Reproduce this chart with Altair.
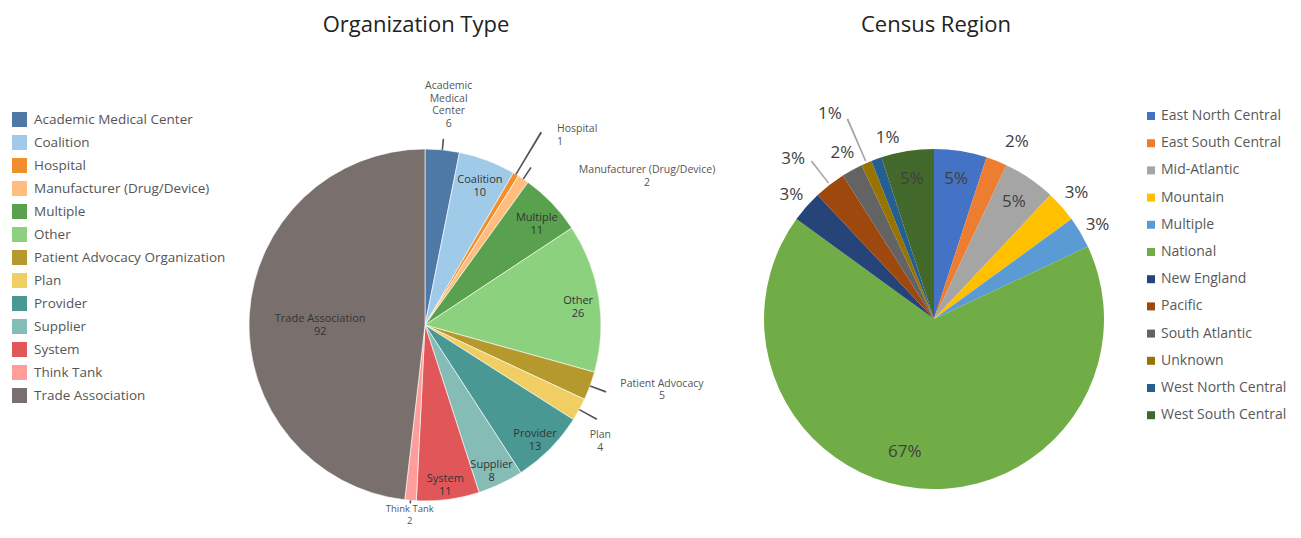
import math
import altair as alt
import pandas as pd

# ---------------- data ----------------
org_types = [
    "Academic Medical Center", "Coalition", "Hospital", "Manufacturer (Drug/Device)",
    "Multiple", "Other", "Patient Advocacy Organization", "Plan", "Provider",
    "Supplier", "System", "Think Tank", "Trade Association",
]
org_counts = [6, 10, 1, 2, 11, 26, 5, 4, 13, 8, 11, 2, 92]
org_labels = [
    "Academic\nMedical\nCenter", "Coalition", "Hospital", "Manufacturer (Drug/Device)",
    "Multiple", "Other", "Patient Advocacy", "Plan", "Provider",
    "Supplier", "System", "Think Tank", "Trade Association",
]
org_colors = [
    "#4e79a7", "#a0cbe8", "#f28e2b", "#ffbe7d", "#59a14f", "#8cd17d", "#b6992d",
    "#f1ce63", "#499894", "#86bcb6", "#e15759", "#ff9d9a", "#79706e",
]

regions = [
    "East North Central", "East South Central", "Mid-Atlantic", "Mountain", "Multiple",
    "National", "New England", "Pacific", "South  Atlantic", "Unknown",
    "West North Central", "West South Central",
]
region_pct = [5, 2, 5, 3, 3, 67, 3, 3, 2, 1, 1, 5]
region_colors = [
    "#4472c4", "#ed7d31", "#a5a5a5", "#ffc000", "#5b9bd5", "#70ad47",
    "#264478", "#9e480e", "#636363", "#997300", "#255e91", "#43682b",
]

titles = ["Organization Type", "Census Region"]

org_df = pd.DataFrame({"cat": org_types, "value": org_counts, "label": org_labels,
                       "order": list(range(len(org_types)))})
reg_df = pd.DataFrame({"cat": regions, "value": region_pct,
                       "order": list(range(len(regions)))})

# ---------------- layout ----------------
LX, LY, LR = 417, 317, 176   # left pie centre / radius (plot coords)
RX, RY, RR = 926, 311, 170   # right pie centre / radius
FONT = "Open Sans"
THETA = alt.Scale(domain=[0, 1], range=[0, 2 * math.pi])


def polar(df):
    return (
        alt.Chart(df)
        .transform_window(cum="sum(value)", sort=[alt.SortField("order")], frame=[None, 0])
        .transform_joinaggregate(total="sum(value)")
        .transform_calculate(
            start="(datum.cum - datum.value) / datum.total",
            end="datum.cum / datum.total",
            mid="(datum.cum - datum.value / 2) / datum.total",
            lo="(datum.cum - datum.value / 2) / datum.total - 0.0007",
            hi="(datum.cum - datum.value / 2) / datum.total + 0.0007",
        )
    )


def pie(df, cx, cy, r, domain, colors, legend, stroke_w):
    return polar(df).mark_arc(outerRadius=r, stroke="white", strokeWidth=stroke_w).encode(
        theta=alt.Theta("start:Q", scale=THETA, stack=False),
        theta2="end:Q",
        color=alt.Color("cat:N", scale=alt.Scale(domain=domain, range=colors), legend=legend),
        x=alt.value(cx), y=alt.value(cy),
    )


def labels(df, cx, cy, expr, txt, radius, size, color, align="center", dx=0, dy=0, lh=None):
    extra = {"lineHeight": lh} if lh else {}
    return (
        polar(df)
        .transform_filter(expr)
        .transform_calculate(txt=txt)
        .mark_text(align=align, baseline="middle", dx=dx, dy=dy, lineBreak="\n",
                   font=FONT, fontSize=size, color=color, **extra)
        .encode(
            theta=alt.Theta("mid:Q", scale=THETA, stack=False),
            radius=alt.value(radius),
            text="txt:N",
            x=alt.value(cx), y=alt.value(cy),
        )
    )


def leader(df, cx, cy, expr, r1, r2, color):
    return (
        polar(df)
        .transform_filter(expr)
        .mark_arc(innerRadius=r1, outerRadius=r2, color=color)
        .encode(
            theta=alt.Theta("lo:Q", scale=THETA, stack=False),
            theta2="hi:Q",
            x=alt.value(cx), y=alt.value(cy),
        )
    )


ORG_TXT = "datum.label + '\\n' + datum.value"
REG_TXT = "datum.value + '%'"

left_legend = alt.Legend(
    orient="none", legendX=4, legendY=104, title=None, symbolType="square",
    symbolSize=225, symbolStrokeWidth=0, symbolOpacity=1, labelFont=FONT,
    labelFontSize=13.5, labelColor="#555555", rowPadding=8, labelOffset=7, padding=0,
    labelLimit=400,
)
right_legend = alt.Legend(
    orient="none", legendX=1136, legendY=101, title=None, symbolType="square",
    symbolSize=64, symbolStrokeWidth=0, symbolOpacity=1, labelFont=FONT,
    labelFontSize=14, labelColor="#595959", rowPadding=13.2, labelOffset=3, padding=0,
    labelLimit=400,
)

layers = [
    pie(org_df, LX, LY, LR, org_types, org_colors, left_legend, 0.6),
    pie(reg_df, RX, RY, RR, regions, region_colors, right_legend, 0),
]

# left pie: inside labels
layers.append(labels(org_df, LX, LY, "datum.value >= 8 && datum.value < 50", ORG_TXT, 155, 11, "#333333"))
layers.append(labels(org_df, LX, LY, "datum.value >= 50", ORG_TXT, 105, 11, "#333333"))

# left pie: outside labels  (category, radius, align, dx, dy, line r1, line r2, line height, size)
ORG_OUT = [
    ("Academic Medical Center", 240, "center", 0, 0, LR, 187, None, 10.5),
    ("Hospital", 240, "left", 8, 10, LR, 225, None, 10.5),
    ("Manufacturer (Drug/Device)", 190, "center", 116, 3, LR, 190, None, 10.5),
    ("Patient Advocacy Organization", 195, "center", 54, -9, LR, 193, None, 10.5),
    ("Plan", 200, "center", 0, 14, LR, 196, None, 10.5),
    ("Think Tank", 185, "center", 0, 0, LR, 179, 12, 9.5),
]
for cat, rad, al, dx, dy, r1, r2, lh, fs in ORG_OUT:
    expr = f"datum.cat == '{cat}'"
    layers.append(labels(org_df, LX, LY, expr, ORG_TXT, rad, fs, "#555555", al, dx, dy, lh))
    layers.append(leader(org_df, LX, LY, expr, r1, r2, "#555555"))

# right pie: inside labels
layers.append(labels(reg_df, RX, RY, "datum.value >= 5 && datum.value < 50", REG_TXT, 142, 17, "#404040"))
layers.append(labels(reg_df, RX, RY, "datum.value >= 50", REG_TXT, 140, 17, "#404040", "center", -16, -6))

# right pie: outside labels
REG_OUT = [
    ("East South Central", 190, 13, 0, None),
    ("Mountain", 190, 0, 0, None),
    ("Multiple", 190, 0, 3, None),
    ("New England", 190, 0, 2, None),
    ("Pacific", 212, -11, 8, 200),
    ("South  Atlantic", 190, 0, 0, None),
    ("Unknown", 232, -12, 8, 218),
    ("West North Central", 190, 18, -2, None),
]
for cat, rad, dx, dy, line_end in REG_OUT:
    expr = f"datum.cat == '{cat}'"
    layers.append(labels(reg_df, RX, RY, expr, REG_TXT, rad, 17, "#404040", "center", dx, dy))
    if line_end:
        layers.append(leader(reg_df, RX, RY, expr, RR + 2, line_end, "#a6a6a6"))

# titles
for t, tx in zip(titles, [408, 928]):
    layers.append(
        alt.Chart(pd.DataFrame({"t": [t]}))
        .mark_text(font=FONT, fontSize=22, color="#222222", align="center", baseline="middle")
        .encode(text="t:N", x=alt.value(tx), y=alt.value(17))
    )

chart = (
    alt.layer(*layers)
    .resolve_scale(color="independent")
    .properties(width=1285, height=522, autosize=alt.AutoSizeParams(type="none"), padding=0)
    .configure_view(strokeWidth=0)
)

chart.save("out.html", embed_options={"renderer": "svg", "actions": False})
